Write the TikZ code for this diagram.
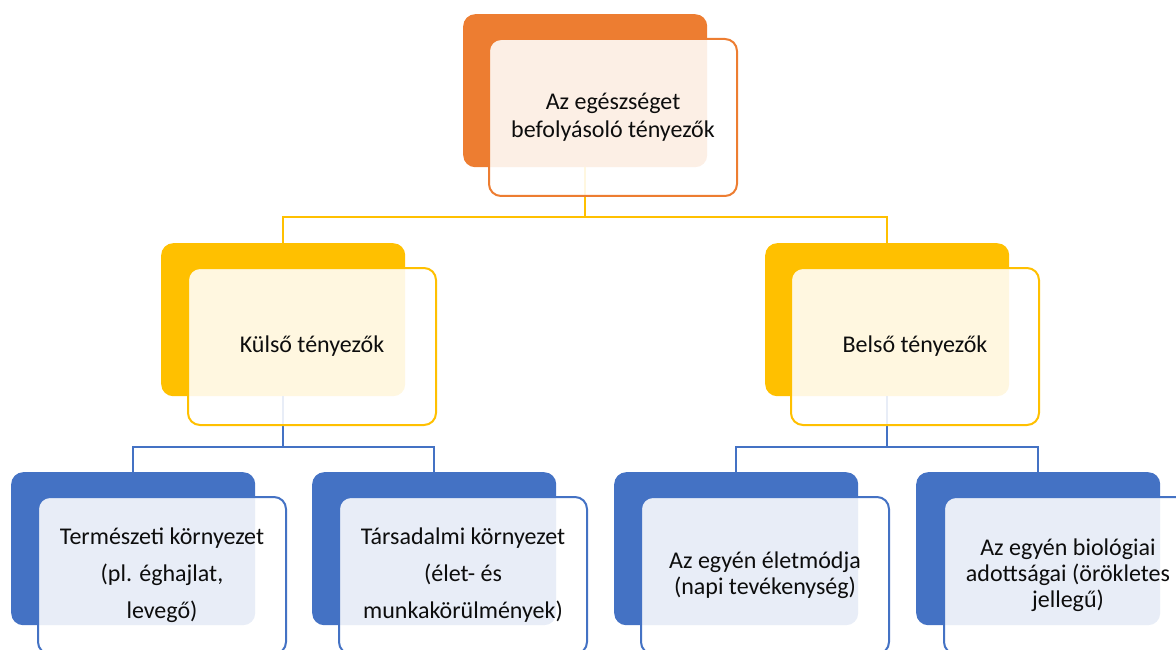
\documentclass[tikz,border=0pt]{standalone}
\usepackage{fontspec}
\setmainfont{Carlito}
\definecolor{orng}{HTML}{ED7D31}
\definecolor{yell}{HTML}{FFC000}
\definecolor{blu}{HTML}{4472C4}
\begin{document}
\begin{tikzpicture}[x=1pt,y=-1pt,
  back/.style={rounded corners=12pt, minimum width=244pt, minimum height=153pt, inner sep=0pt, anchor=north west},
  front/.style={rounded corners=12pt, minimum width=248pt, minimum height=157pt, inner sep=0pt, fill=white, fill opacity=0.88, text opacity=1, line width=2pt, anchor=north west, align=center, font=\fontsize{24}{28}\selectfont, text=black!95},
  conn/.style={line width=2pt}]
\useasboundingbox (0,0) rectangle (1176,650);
\clip (0,0) rectangle (1176,650);
% back boxes
\node[back, fill=orng] (topb) at (463,14) {};
\node[back, fill=yell] (kb) at (161,243) {};
\node[back, fill=yell] (bb) at (765,243) {};
\node[back, fill=blu] (b1) at (11,472) {};
\node[back, fill=blu] (b2) at (312,472) {};
\node[back, fill=blu] (b3) at (614,472) {};
\node[back, fill=blu] (b4) at (916,472) {};
% connectors
\draw[conn, yell] (topb.south) -- ++(0,50) coordinate (j1) -| (kb.north);
\draw[conn, yell] (j1) -| (bb.north);
\draw[conn, blu] (kb.south) -- ++(0,51) coordinate (j2) -| (b1.north);
\draw[conn, blu] (j2) -| (b2.north);
\draw[conn, blu] (bb.south) -- ++(0,51) coordinate (j3) -| (b3.north);
\draw[conn, blu] (j3) -| (b4.north);
% front boxes
\node[front, draw=orng] (topf) at (488,38) {Az egészséget\\befolyásoló tényezők};
\node[front, draw=yell] (kf) at (187,267) {Külső tényezők};
\node[front, draw=yell] (bf) at (790,267) {Belső tényezők};
\node[front, draw=blu] (f1) at (37,496) {Természeti környezet\\[9pt](pl. éghajlat,\\[9pt]levegő)};
\node[front, draw=blu] (f2) at (338,496) {Társadalmi környezet\\[9pt](élet- és\\[9pt]munkakörülmények)};
\node[front, draw=blu, font=\fontsize{24}{26}\selectfont] (f3) at (640,496) {Az egyén életmódja\\(napi tevékenység)};
\node[front, draw=blu, font=\fontsize{24}{26}\selectfont] (f4) at (943,496) {Az egyén biológiai\\adottságai (örökletes\\jellegű)};
\end{tikzpicture}
\end{document}
